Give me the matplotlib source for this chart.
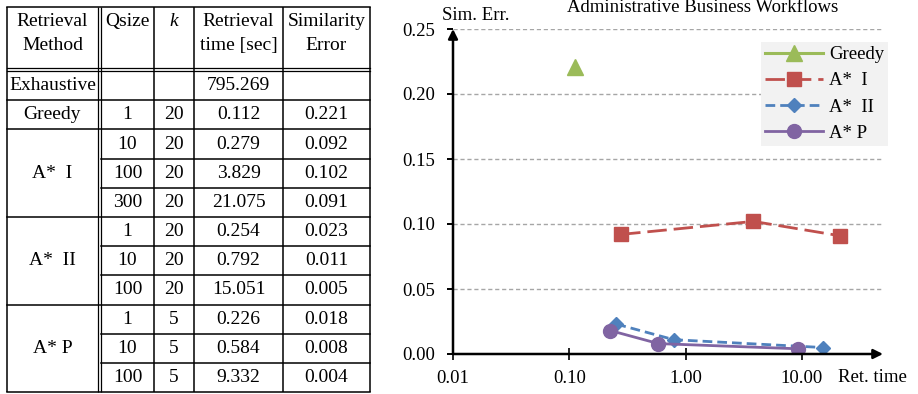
import matplotlib
matplotlib.use('Agg')
import matplotlib.pyplot as plt

plt.rcParams['font.family'] = ['Liberation Serif', 'DejaVu Serif']

# ---------------- data ----------------
table_groups = ["Exhaustive", "Greedy", "A*  I", "A*  II", "A* P"]
group_sizes = [1, 1, 3, 3, 3]
qsize = ["", "1", "10", "100", "300", "1", "10", "100", "1", "10", "100"]
k_vals = ["", "20", "20", "20", "20", "20", "20", "20", "5", "5", "5"]
ret_time = ["795.269", "0.112", "0.279", "3.829", "21.075", "0.254", "0.792",
            "15.051", "0.226", "0.584", "9.332"]
sim_err = ["", "0.221", "0.092", "0.102", "0.091", "0.023", "0.011", "0.005",
           "0.018", "0.008", "0.004"]

greedy_t = [0.112]
greedy_e = [0.221]
astar1_t = [0.279, 3.829, 21.075]
astar1_e = [0.092, 0.102, 0.091]
astar2_t = [0.254, 0.792, 15.051]
astar2_e = [0.023, 0.011, 0.005]
astarp_t = [0.226, 0.584, 9.332]
astarp_e = [0.018, 0.008, 0.004]

x_ticks = [0.01, 0.1, 1, 10]
x_ticklabels = ["0.01", "0.10", "1.00", "10.00"]
y_ticks = [0.0, 0.05, 0.10, 0.15, 0.20, 0.25]
y_ticklabels = ["0.00", "0.05", "0.10", "0.15", "0.20", "0.25"]

# ---------------- figure ----------------
W, H = 918, 394
fig = plt.figure(figsize=(W / 100, H / 100), dpi=100)

# ---------- table (drawn in pixel coordinates) ----------
tax = fig.add_axes([0, 0, 1, 1])
tax.set_xlim(0, W)
tax.set_ylim(H, 0)
tax.axis('off')

TFS = 14
x_left, x_d1, x_d2, x_c3, x_c4, x_c5, x_right = 7, 98, 101, 154, 194, 283, 370
y_top, y_h1, y_h2 = 7, 68, 71
row_h = 29.2
nrows = len(qsize)
row_edges = [y_h2 + i * row_h for i in range(nrows + 1)]
y_bot = row_edges[-1]
lc = 'black'
lw = 1.1

# outer / vertical lines
for x in [x_left, x_d1, x_d2, x_c3, x_c4, x_c5, x_right]:
    tax.plot([x, x], [y_top, y_bot], color=lc, lw=lw if x not in (x_d1, x_d2) else 0.9,
             solid_capstyle='butt')
tax.plot([x_left, x_right], [y_top, y_top], color=lc, lw=lw)
tax.plot([x_left, x_right], [y_h1, y_h1], color=lc, lw=0.9)
tax.plot([x_left, x_right], [y_h2, y_h2], color=lc, lw=0.9)

group_bounds = [0]
for s in group_sizes:
    group_bounds.append(group_bounds[-1] + s)
for i in range(1, nrows + 1):
    xs = x_left if i in group_bounds else x_d2
    tax.plot([xs, x_right], [row_edges[i], row_edges[i]], color=lc, lw=lw)

c1 = (x_left + x_d1) / 2
c2 = (x_d2 + x_c3) / 2
c3 = (x_c3 + x_c4) / 2
c4 = (x_c4 + x_c5) / 2
c5 = (x_c5 + x_right) / 2
hy1, hy2 = 21, 45
kw = dict(ha='center', va='center', fontsize=TFS)
tax.text(c1, hy1, "Retrieval", **kw)
tax.text(c1, hy2, "Method", **kw)
tax.text(c2, hy1, "Qsize", **kw)
tax.text(c3, hy1, "k", fontstyle='italic', **kw)
tax.text(c4, hy1, "Retrieval", **kw)
tax.text(c4, hy2, "time [sec]", **kw)
tax.text(c5, hy1, "Similarity", **kw)
tax.text(c5, hy2, "Error", **kw)

for i in range(nrows):
    yc = (row_edges[i] + row_edges[i + 1]) / 2
    tax.text(c2, yc, qsize[i], **kw)
    tax.text(c3, yc, k_vals[i], **kw)
    tax.text(c4, yc, ret_time[i], **kw)
    tax.text(c5, yc, sim_err[i], **kw)
for g, name in enumerate(table_groups):
    yc = (row_edges[group_bounds[g]] + row_edges[group_bounds[g + 1]]) / 2
    tax.text(c1, yc, name, **kw)

# ---------------- chart ----------------
CFS = 13.5
ax_l, ax_r, ax_t, ax_b = 453, 883, 29, 354
ax = fig.add_axes([ax_l / W, (H - ax_b) / H, (ax_r - ax_l) / W, (ax_b - ax_t) / H])
decade_px = 116.3
ax.set_xscale('log')
ax.set_xlim(0.01, 10 ** ((ax_r - ax_l) / decade_px - 2))
ax.set_ylim(0, 0.25)
ax.patch.set_alpha(0)

ax.plot(greedy_t, greedy_e, color='#9bbb59', marker='^', ms=11, lw=2.2,
        label='Greedy')
ax.plot(astar1_t, astar1_e, color='#c0504d', marker='s', ms=9.5, lw=2.0,
        dashes=(7, 2.5), label='A*  I')
ax.plot(astar2_t, astar2_e, color='#4f81bd', marker='D', ms=7.5, lw=2.0,
        dashes=(3.5, 1.8), label='A*  II')
ax.plot(astarp_t, astarp_e, color='#8064a2', marker='o', ms=10, lw=2.0,
        label='A* P')

for s in ax.spines.values():
    s.set_visible(False)
ax.set_yticks(y_ticks)
ax.set_yticklabels(y_ticklabels)
ax.set_xticks(x_ticks)
ax.set_xticklabels(x_ticklabels)
ax.minorticks_off()
ax.tick_params(axis='y', direction='out', length=4, width=1.4, pad=9,
               labelsize=CFS)
ax.tick_params(axis='x', direction='inout', length=9, width=1.2, pad=7,
               labelsize=CFS)
ax.yaxis.grid(True, color='#a6a6a6', linestyle=(0, (3, 2)), lw=1.0)
ax.set_axisbelow(True)

arrow = dict(arrowstyle='-|>', color='black', lw=1.8, mutation_scale=14,
             shrinkA=0, shrinkB=0)
ax.annotate('', xy=(1.0, 0), xytext=(0, 0), xycoords='axes fraction',
            textcoords='axes fraction', arrowprops=arrow, annotation_clip=False)
ax.annotate('', xy=(0, 1.0), xytext=(0, 0), xycoords='axes fraction',
            textcoords='axes fraction', arrowprops=arrow, annotation_clip=False)

leg = ax.legend(loc='upper right', bbox_to_anchor=(888 / W, 1 - 42 / H),
                bbox_transform=fig.transFigure, borderaxespad=0, frameon=True,
                facecolor='#f2f2f2', edgecolor='none', framealpha=1,
                fancybox=False, handlelength=3.1, handletextpad=0.3,
                labelspacing=0.48, borderpad=0.22, fontsize=CFS)

fig.text(442 / W, 1 - 15 / H, "Sim. Err.", ha='left', va='center', fontsize=CFS)
fig.text(838 / W, 1 - 378 / H, "Ret. time", ha='left', va='center', fontsize=CFS)
fig.text(703 / W, 1 - 11.5 / H, "Administrative Business Workflows", ha='center',
         va='baseline', fontsize=CFS)

fig.savefig('out.png', dpi=100)
